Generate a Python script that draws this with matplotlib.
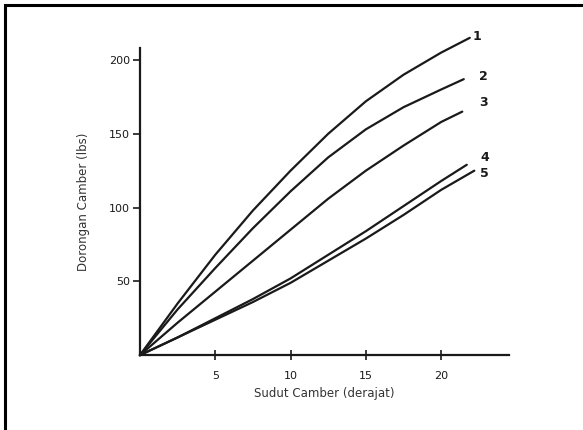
import matplotlib
matplotlib.use("Agg")
import matplotlib.pyplot as plt
from matplotlib.patches import Rectangle

# Camber angle (degrees) and camber thrust (lbs)
x_common = [0, 2.5, 5, 7.5, 10, 12.5, 15, 17.5, 20]
curve_1 = [0, 35, 68, 98, 125, 150, 172, 190, 205]
curve_2 = [0, 31, 59, 86, 111, 134, 153, 168, 180]
curve_3 = [0, 22, 43, 64, 85, 106, 125, 142, 158]
curve_4 = [0, 12, 25, 38, 52, 68, 84, 101, 118]
curve_5 = [0, 12, 24, 36, 49, 64, 79, 95, 112]

end_x = [21.9, 21.5, 21.4, 21.7, 22.2]
end_y = [215, 187, 165, 129, 125]
labels = ["1", "2", "3", "4", "5"]
label_pos = [(22.1, 216), (22.5, 189), (22.5, 171), (22.6, 134), (22.6, 123)]

x_ticks = [5, 10, 15, 20]
y_ticks = [50, 100, 150, 200]

fig = plt.figure(figsize=(5.83, 4.30), dpi=100)
fig.patch.set_facecolor("white")

# black frame of the scanned figure
fig.patches.append(Rectangle((0.008, -0.02), 1.2, 1.008, transform=fig.transFigure,
                             fill=False, edgecolor="black", linewidth=2.2))

ax = fig.add_axes([0.24, 0.174, 0.633, 0.714])

curves = [curve_1, curve_2, curve_3, curve_4, curve_5]
for ys, ex, ey in zip(curves, end_x, end_y):
    ax.plot(x_common + [ex], ys + [ey], color="#1a1a1a", linewidth=1.6,
            solid_capstyle="round", solid_joinstyle="round", clip_on=False)

for lab, (lx, ly) in zip(labels, label_pos):
    ax.text(lx, ly, lab, fontsize=9, fontweight="bold", color="#1a1a1a",
            ha="left", va="center")

ax.set_xlim(0, 24.5)
ax.set_ylim(0, 208)
ax.set_xticks(x_ticks)
ax.set_yticks(y_ticks)
ax.tick_params(axis="x", direction="inout", length=7, width=1.2, labelsize=8,
               colors="#1a1a1a", pad=8)
ax.tick_params(axis="y", direction="out", length=5, width=1.2, labelsize=8,
               colors="#1a1a1a", pad=2)

for side in ["top", "right"]:
    ax.spines[side].set_visible(False)
for side in ["left", "bottom"]:
    ax.spines[side].set_linewidth(1.6)
    ax.spines[side].set_color("#1a1a1a")

ax.set_xlabel("Sudut Camber (derajat)", fontsize=8.5, color="#333333", labelpad=4)
ax.set_ylabel("Dorongan Camber (lbs)", fontsize=8.5, color="#333333", labelpad=14)

fig.savefig("out.png", dpi=100)
